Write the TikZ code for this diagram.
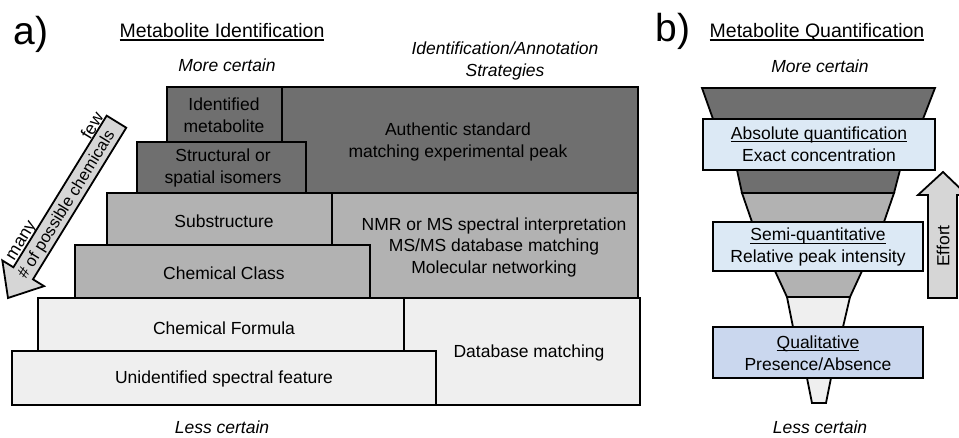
\documentclass[tikz,border=0pt]{standalone}
\usepackage{fontspec}
\setmainfont{Liberation Sans}
\definecolor{dkgray}{HTML}{6F6F6F}
\definecolor{mdgray}{HTML}{B2B2B2}
\definecolor{ltgray}{HTML}{EFEFEF}
\definecolor{argray}{HTML}{D6D6D6}
\definecolor{qblue}{HTML}{DCE9F5}
\definecolor{qlblue}{HTML}{CAD7EE}
\newcommand\ulin[1]{\setbox0\hbox{#1}\rlap{\rule[-0.17em]{\wd0}{0.07em}}\box0}

\begin{document}
\begin{tikzpicture}[x=1pt,y=-1pt,
		box/.style={draw,line width=1.8pt},
		lbl/.style={font=\fontsize{17.5}{21.5}\selectfont,align=center,inner sep=0pt},
		note/.style={font=\fontsize{17.5}{21.5}\selectfont\itshape,align=center,inner sep=0pt},
		ttl/.style={font=\fontsize{19.5}{23}\selectfont,inner sep=0pt},
		panel/.style={font=\fontsize{39}{44}\selectfont,inner sep=0pt}]
		\useasboundingbox (0,0) rectangle (959,438);

		% a) identification levels
		\node[panel] (pa) at (31,34) {a)};
		\node[ttl] (ta) at (222,32) {\ulin{Metabolite Identification}};
		\node[note] (topa) at (227,65) {More certain};
		\node[note] (strat) at (505,61) {Identification/Annotation\\Strategies};
		\node[note] (bota) at (222,427) {Less certain};

		\filldraw[box,fill=dkgray] (282,87) rectangle (638,193);
		\filldraw[box,fill=mdgray] (332,193) rectangle (638,298);
		\filldraw[box,fill=ltgray] (404,298) rectangle (640,405);
		\filldraw[box,fill=dkgray] (167,87) rectangle (282,142);
		\filldraw[box,fill=dkgray] (137,142) rectangle (306,193);
		\filldraw[box,fill=mdgray] (107,193) rectangle (332,245);
		\filldraw[box,fill=mdgray] (75,245) rectangle (370,298);
		\filldraw[box,fill=ltgray] (38,298) rectangle (404,351);
		\filldraw[box,fill=ltgray] (12,351) rectangle (436,405);

		\node[lbl] (ident) at (224,115) {Identified\\metabolite};
		\node[lbl] (isom) at (223,168) {Structural or\\spatial isomers};
		\node[lbl] (subst) at (224,221) {Substructure};
		\node[lbl] (class) at (224,273) {Chemical Class};
		\node[lbl] (form) at (224,328) {Chemical Formula};
		\node[lbl] (unid) at (224,379) {Unidentified spectral feature};
		\node[lbl] (auth) at (458,142) {Authentic standard\\matching experimental peak};
		\node[lbl] (nmr) at (494,247) {NMR or MS spectral interpretation\\MS/MS database matching\\Molecular networking};
		\node[lbl] (db) at (529,353) {Database matching};

		% number of possible chemicals
		\begin{scope}[shift={(8,298)},rotate=58.4]
			\filldraw[box,fill=argray] (0,0) -- (29,24.5) -- (29,11.5) -- (207,11.5)
				-- (207,-11.5) -- (29,-11.5) -- (29,-24.5) -- cycle;
			\node[lbl,transform shape,font=\fontsize{16.5}{20}\selectfont] (nchem) at (110,1.5) {\# of possible chemicals};
			\node[lbl,transform shape] (few) at (191,-19) {few};
			\node[lbl,transform shape] (many) at (56,-17) {many};
		\end{scope}

		% b) quantification funnel
		\node[panel] (pb) at (673,31) {b)};
		\node[ttl] (tb) at (817,32) {\ulin{Metabolite Quantification}};
		\node[note] (topb) at (820,66) {More certain};
		\node[note] (botb) at (820,427) {Less certain};

		\filldraw[box,fill=dkgray] (702,88) -- (935,88) -- (923,119) -- (713,119) -- cycle;
		\filldraw[box,fill=dkgray] (737,170) -- (900,170) -- (894,193) -- (742,193) -- cycle;
		\filldraw[box,fill=mdgray] (742,193) -- (894,193) -- (884,222) -- (752,222) -- cycle;
		\filldraw[box,fill=mdgray] (775,271) -- (862,271) -- (850,297) -- (787,297) -- cycle;
		\filldraw[box,fill=ltgray] (787,297) -- (850,297) -- (843,327) -- (793,327) -- cycle;
		\filldraw[box,fill=ltgray] (807,378) -- (831,378) -- (826,403) -- (812,403) -- cycle;

		\filldraw[box,fill=qblue] (703,119) rectangle (935,170);
		\filldraw[box,fill=qblue] (713,222) rectangle (923,271);
		\filldraw[box,fill=qlblue] (713,327) rectangle (923,378);

		\node[lbl] (absq) at (819,144) {\ulin{Absolute quantification}\\Exact concentration};
		\node[lbl] (semi) at (818,247) {\ulin{Semi-quantitative}\\Relative peak intensity};
		\node[lbl] (qual) at (818,353) {\ulin{Qualitative}\\Presence/Absence};

		% effort
		\filldraw[box,fill=argray] (943,172) -- (967,195) -- (957,195) -- (957,298)
			-- (928,298) -- (928,195) -- (918,195) -- cycle;
		\node[lbl,rotate=90] (effort) at (943,246) {Effort};
	\end{tikzpicture}
\end{document}
